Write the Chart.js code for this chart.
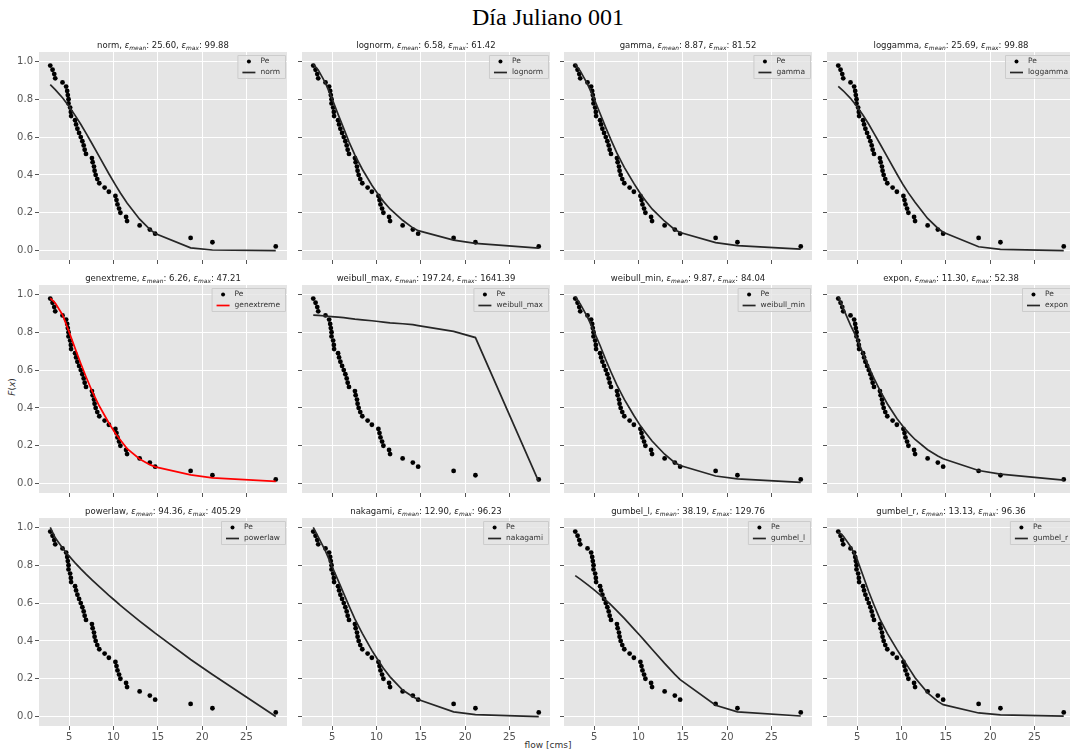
<!DOCTYPE html>
<html>
<head>
<meta charset="utf-8">
<script src="https://cdn.jsdelivr.net/npm/chart.js@4.4.1/dist/chart.umd.min.js"></script>
<style>
  html, body { margin:0; padding:0; background:#fff; overflow:hidden; width:1070px; height:751px; }
  body { font-family:"DejaVu Sans", sans-serif; }
  #fig { position:absolute; left:0; top:0; width:1070px; height:751px; overflow:hidden; }
  canvas { position:absolute; }
  .ptitle { position:absolute; width:300px; text-align:center; font-size:8.5px; color:#222; white-space:nowrap; line-height:10px; }
  .ptitle sub { font-size:70%; vertical-align:-2px; line-height:0; }
  #suptitle { position:absolute; left:0; width:1096px; top:4px; text-align:center; font-family:"Liberation Serif", serif; font-size:24px; color:#000; }
  #ylab { position:absolute; left:-8px; top:382px; width:40px; text-align:center; font-size:9px; color:#333; transform:rotate(-90deg); }
  #xlab { position:absolute; left:498px; top:740px; width:100px; text-align:center; font-size:9px; color:#333; }
</style>
</head>
<body>
<div id="fig">
<div id="suptitle">Día Juliano 001</div>
<div id="ylab"><i>F</i>(<i>x</i>)</div>
<div id="xlab">flow [cms]</div>
</div>
<script>
// observed points (Pe)
const flowPe = [2.87, 3.13, 3.32, 3.43, 4.25, 4.66, 4.78, 4.85, 4.93, 4.93, 5.11, 5.19, 5.22, 5.67, 5.78,
  5.93, 6.12, 6.31, 6.49, 6.64, 6.75, 6.9, 7.57, 7.65, 7.8, 7.87, 7.99, 8.17, 8.4, 9.0, 9.48,
  10.22, 10.34, 10.45, 10.63, 10.78, 11.42, 11.53, 12.95, 14.1, 14.7, 18.7, 21.16, 28.3];
const probPe = [0.978, 0.956, 0.933, 0.911, 0.889, 0.867, 0.844, 0.822, 0.800, 0.778, 0.756, 0.733, 0.711,
  0.689, 0.667, 0.644, 0.622, 0.600, 0.578, 0.556, 0.533, 0.511, 0.489, 0.467, 0.444, 0.422, 0.400,
  0.378, 0.356, 0.333, 0.311, 0.289, 0.267, 0.244, 0.222, 0.200, 0.178, 0.156, 0.133, 0.111, 0.089,
  0.067, 0.044, 0.022];

// fitted curves, read at these flows
const fitFlow = [2.87, 3.43, 4.25, 4.93, 5.67, 6.31, 6.9, 7.57, 8.4, 9.48, 10.22, 10.78, 11.53, 12.95, 14.1, 14.7, 18.7, 21.16, 28.3];
const normFit       = [0.877, 0.851, 0.808, 0.766, 0.715, 0.668, 0.621, 0.566, 0.497, 0.406, 0.347, 0.304, 0.251, 0.166, 0.112, 0.090, 0.014, 0.003, 0.000];
const lognormFit    = [0.985, 0.955, 0.885, 0.810, 0.720, 0.645, 0.575, 0.505, 0.430, 0.345, 0.295, 0.260, 0.220, 0.160, 0.120, 0.105, 0.055, 0.038, 0.013];
const gammaFit      = [0.985, 0.950, 0.880, 0.810, 0.725, 0.650, 0.585, 0.515, 0.440, 0.355, 0.300, 0.265, 0.220, 0.155, 0.110, 0.095, 0.042, 0.026, 0.007];
const loggammaFit   = [0.868, 0.845, 0.805, 0.765, 0.715, 0.668, 0.620, 0.565, 0.495, 0.405, 0.345, 0.305, 0.255, 0.170, 0.118, 0.097, 0.020, 0.006, 0.000];
const genextremeFit = [0.980, 0.955, 0.893, 0.810, 0.715, 0.635, 0.565, 0.490, 0.410, 0.320, 0.265, 0.230, 0.185, 0.130, 0.100, 0.088, 0.046, 0.030, 0.012];
const weibullMaxFit = [0.891, 0.889, 0.886, 0.883, 0.880, 0.877, 0.874, 0.870, 0.866, 0.861, 0.857, 0.854, 0.850, 0.845, 0.840, 0.835, 0.805, 0.772, 0.010];
const weibullMinFit = [0.990, 0.950, 0.880, 0.810, 0.730, 0.655, 0.590, 0.520, 0.445, 0.360, 0.305, 0.270, 0.225, 0.155, 0.110, 0.095, 0.040, 0.025, 0.006];
const exponFit      = [0.990, 0.926, 0.838, 0.773, 0.687, 0.616, 0.556, 0.493, 0.422, 0.344, 0.299, 0.269, 0.233, 0.179, 0.146, 0.131, 0.069, 0.050, 0.018];
const powerlawFit   = [1.000, 0.945, 0.891, 0.852, 0.813, 0.781, 0.753, 0.723, 0.687, 0.641, 0.611, 0.588, 0.559, 0.505, 0.463, 0.441, 0.302, 0.222, 0.000];
const nakagamiFit   = [1.000, 0.950, 0.875, 0.800, 0.720, 0.650, 0.585, 0.515, 0.440, 0.350, 0.295, 0.255, 0.210, 0.140, 0.105, 0.090, 0.025, 0.010, 0.000];
const gumbelLFit    = [0.745, 0.727, 0.698, 0.673, 0.643, 0.616, 0.590, 0.559, 0.519, 0.464, 0.426, 0.396, 0.356, 0.281, 0.223, 0.195, 0.060, 0.025, 0.003];
const gumbelRFit    = [0.977, 0.955, 0.900, 0.840, 0.745, 0.660, 0.590, 0.515, 0.440, 0.355, 0.300, 0.260, 0.205, 0.125, 0.080, 0.063, 0.019, 0.009, 0.002];

const distNames = ["norm", "lognorm", "gamma", "loggamma", "genextreme", "weibull_max", "weibull_min", "expon",
  "powerlaw", "nakagami", "gumbel_l", "gumbel_r"];
const fits = [normFit, lognormFit, gammaFit, loggammaFit, genextremeFit, weibullMaxFit, weibullMinFit, exponFit,
  powerlawFit, nakagamiFit, gumbelLFit, gumbelRFit];
const errMean = ["25.60", "6.58", "8.87", "25.69", "6.26", "197.24", "9.87", "11.30", "94.36", "12.90", "38.19", "13.13"];
const errMax = ["99.88", "61.42", "81.52", "99.88", "47.21", "1641.39", "84.04", "52.38", "405.29", "96.23", "129.76", "96.36"];
const xTicks = [5, 10, 15, 20, 25];
const yTicks = [0, 0.2, 0.4, 0.6, 0.8, 1.0];

// grid layout of the panels (plot areas in page pixels)
const colLeft = [39, 302, 564, 827];
const rowTop = [52, 285, 518];
const plotW = 248, plotH = 208;
const fig = document.getElementById("fig");

const bgPlugin = {
  id: "panelBg",
  beforeDraw(chart) {
    const a = chart.chartArea, ctx = chart.ctx;
    ctx.save();
    ctx.fillStyle = "#e5e5e5";
    ctx.fillRect(a.left, a.top, a.right - a.left, a.bottom - a.top);
    ctx.restore();
  }
};

// matplotlib-ish legend in the upper right corner
const legendPlugin = {
  id: "panelLegend",
  afterDatasetsDraw(chart, args, opts) {
    const ctx = chart.ctx, a = chart.chartArea;
    ctx.save();
    ctx.font = "7.5px 'DejaVu Sans'";
    const tw = Math.max(ctx.measureText("Pe").width, ctx.measureText(opts.name).width);
    const w = tw + 28, h = 23;
    const x0 = a.right - 2 - w, y0 = a.top + 3;
    ctx.fillStyle = "rgba(229,229,229,0.8)";
    ctx.strokeStyle = "#cccccc";
    ctx.lineWidth = 1;
    ctx.beginPath();
    ctx.rect(x0 + 0.5, y0 + 0.5, w, h);
    ctx.fill();
    ctx.stroke();
    ctx.fillStyle = "#000";
    ctx.beginPath();
    ctx.arc(x0 + 11.5, y0 + 6.5, 2, 0, Math.PI * 2);
    ctx.fill();
    ctx.strokeStyle = opts.color;
    ctx.lineWidth = 1.7;
    ctx.beginPath();
    ctx.moveTo(x0 + 5, y0 + 17.5);
    ctx.lineTo(x0 + 18, y0 + 17.5);
    ctx.stroke();
    ctx.fillStyle = "#333";
    ctx.textBaseline = "middle";
    ctx.fillText("Pe", x0 + 23, y0 + 6.5);
    ctx.fillText(opts.name, x0 + 23, y0 + 17.5);
    ctx.restore();
  }
};

function fixScale(s, size) {
  if (s.isHorizontal()) s.height = size; else s.width = size;
}

function panelConfig(k, r, c) {
  const name = distNames[k];
  const lineColor = name === "genextreme" ? "#ff0000" : "#262626";
  return {
    type: "scatter",
    data: {
      datasets: [
        {
          label: "Pe",
          data: flowPe.map((x, i) => ({ x: x, y: probPe[i] })),
          pointRadius: 2.4,
          pointBackgroundColor: "#000",
          pointBorderWidth: 0,
          showLine: false,
          order: 2,
        },
        {
          label: name,
          data: fitFlow.map((x, i) => ({ x: x, y: fits[k][i] })),
          showLine: true,
          borderColor: lineColor,
          borderWidth: 1.7,
          pointRadius: 0,
          tension: 0,
          order: 1,
        },
      ],
    },
    options: {
      responsive: false,
      maintainAspectRatio: false,
      animation: false,
      events: [],
      layout: { padding: 0 },
      plugins: {
        legend: { display: false },
        tooltip: { enabled: false },
        panelLegend: { name: name, color: lineColor },
      },
      scales: {
        x: {
          type: "linear",
          min: 1.6,
          max: 29.57,
          afterBuildTicks: (s) => { s.ticks = xTicks.map((v) => ({ value: v })); },
          afterFit: (s) => fixScale(s, 22),
          border: { display: false },
          grid: { color: "#ffffff", lineWidth: 1, tickColor: "#555555", tickLength: 4 },
          ticks: {
            color: "#555555",
            font: { family: "DejaVu Sans", size: 10 },
            padding: 1,
            maxRotation: 0,
            callback: (v) => (r === 2 ? String(v) : ""),
          },
        },
        y: {
          type: "linear",
          min: -0.05,
          max: 1.05,
          afterBuildTicks: (s) => { s.ticks = yTicks.map((v) => ({ value: v })); },
          afterFit: (s) => fixScale(s, 40),
          border: { display: false },
          grid: { color: "#ffffff", lineWidth: 1, tickColor: "#555555", tickLength: 4 },
          ticks: {
            color: "#555555",
            font: { family: "DejaVu Sans", size: 10 },
            padding: 2,
            callback: (v) => (c === 0 ? v.toFixed(1) : ""),
          },
        },
      },
    },
    plugins: [bgPlugin, legendPlugin],
  };
}

distNames.forEach((name, k) => {
  const r = Math.floor(k / 4), c = k % 4;

  // first pass: measure how much room Chart.js keeps around the plot area
  const probe = document.createElement("canvas");
  probe.width = plotW + 60;
  probe.height = plotH + 40;
  fig.appendChild(probe);
  const tmp = new Chart(probe, panelConfig(k, r, c));
  const a = tmp.chartArea;
  const w = probe.width + plotW - (a.right - a.left);
  const h = probe.height + plotH - (a.bottom - a.top);
  const offL = a.left, offT = a.top;
  tmp.destroy();
  probe.remove();

  const cv = document.createElement("canvas");
  cv.width = Math.round(w);
  cv.height = Math.round(h);
  cv.style.left = (colLeft[c] - offL) + "px";
  cv.style.top = (rowTop[r] - offT) + "px";
  fig.appendChild(cv);
  new Chart(cv, panelConfig(k, r, c));

  const t = document.createElement("div");
  t.className = "ptitle";
  t.style.left = (colLeft[c] + plotW / 2 - 150) + "px";
  t.style.top = (rowTop[r] - 12) + "px";
  t.innerHTML = name + ", <i>ε</i><sub><i>mean</i></sub>: " + errMean[k] + ", <i>ε</i><sub><i>max</i></sub>: " + errMax[k];
  fig.appendChild(t);
});
</script>
</body>
</html>
